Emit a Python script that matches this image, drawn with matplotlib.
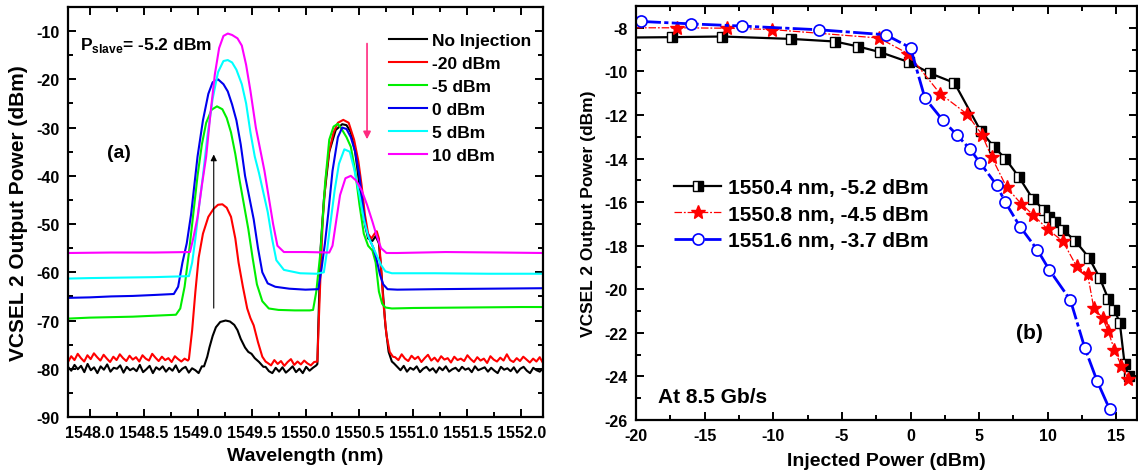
import numpy as np
import matplotlib
matplotlib.use('Agg')
import matplotlib.pyplot as plt
from matplotlib.ticker import MultipleLocator, FormatStrFormatter

# ---------- fonts ----------
FAM = 'Liberation Sans'
plt.rcParams['font.family'] = [FAM, 'DejaVu Sans']
plt.rcParams['font.weight'] = 'bold'
plt.rcParams['axes.unicode_minus'] = False
plt.rcParams['mathtext.fontset'] = 'custom'
plt.rcParams['mathtext.rm'] = FAM + ':bold'
plt.rcParams['mathtext.bf'] = FAM + ':bold'

# ---------- panel (a): spectra ----------
# noisy floors (black / red)
blk_left = [-79.6,-80.4,-79.2,-80.1,-79.4,-80.7,-79.0,-80.3,-79.7,-80.9,-79.5,-80.2,-79.1,-80.6,
            -79.8,-80.0,-79.3,-80.8,-79.6,-80.3,-79.9,-80.5,-79.2,-80.7,-80.1,-79.4,-80.9,-79.7,
            -80.2,-79.5,-80.6,-79.8,-80.4,-79.3,-80.7,-80.0,-79.6,-80.8,-79.9,-80.3,-80.9,-79.5]
blk_mid = [-79.6,-80.5,-80.9,-79.8,-80.6,-79.7,-80.8,-80.2,-79.5,-80.7,-80.0,-80.9,-79.6,-80.4,-79.8,-79.3]
blk_right = [-78.9,-79.6,-80.3,-79.4,-80.6,-79.8,-80.2,-79.5,-80.7,-80.0,-79.6,-80.4,-79.9,-80.8,
             -79.7,-80.3,-79.5,-80.6,-80.1,-79.8,-80.5,-79.6,-80.2,-79.9,-80.7,-79.5,-80.3,-80.0,
             -79.7,-80.6,-79.8,-80.4,-80.9,-79.6,-80.2,-79.9,-80.5,-79.7,-80.8,-80.0,-79.6,-80.4,
             -80.9,-79.8,-80.3,-80.6,-79.9]
blk_pk1_wl = [1549.06,1549.09,1549.11,1549.14,1549.17,1549.21,1549.26,1549.30,1549.34,1549.37,
              1549.40,1549.44,1549.47,1549.50,1549.53,1549.57,1549.61]
blk_pk1_p = [-79.5,-77.5,-75.6,-73.2,-71.4,-70.3,-70.0,-70.2,-70.9,-72.0,-73.8,-75.6,-76.5,-76.9,
             -77.8,-78.6,-79.6]
blk_pk2_wl = [1550.11,1550.12,1550.14,1550.17,1550.22,1550.28,1550.34,1550.38,1550.42,1550.46,
              1550.50,1550.54,1550.58,1550.62,1550.65,1550.68,1550.71,1550.74,1550.77,1550.80]
blk_pk2_p = [-79,-70,-55,-45,-35,-30.5,-29.3,-29.5,-31,-35,-42,-49,-53,-53.5,-52.5,-54,-62,-71,-76.5,-78.5]

red_left = [-78.6,-77.4,-78.2,-76.9,-77.8,-78.5,-77.2,-78.0,-76.8,-77.6,-78.3,-77.1,-77.9,-78.6,
            -77.5,-78.2,-77.0,-77.8,-78.4,-77.3,-78.1,-77.6,-78.5,-77.2,-77.9,-78.3,-76.9,-77.7,
            -78.4,-77.5,-78.2,-77.8,-78.6,-77.4,-78.0,-78.5,-77.9,-78.3]
red_mid = [-78.8,-79.3,-78.2,-79.0,-78.4,-79.4,-78.6,-78.0,-79.2,-78.5,-79.1,-78.3,-78.9,-79.3,-78.6]
red_right = [-77.6,-78.2,-77.0,-77.9,-78.4,-77.3,-78.0,-77.5,-78.6,-77.8,-77.1,-78.3,-77.7,-78.5,
             -77.4,-78.1,-77.8,-78.7,-77.5,-78.2,-77.9,-78.4,-77.2,-78.0,-78.6,-77.6,-78.3,-77.9,
             -78.8,-77.4,-78.1,-78.5,-77.7,-78.3,-77.0,-78.2,-78.6,-77.8,-78.4,-77.5,-78.1,-78.7,
             -77.9,-78.5,-77.6,-78.8]
red_pk1_wl = [1548.92,1548.95,1548.98,1549.01,1549.05,1549.10,1549.15,1549.19,1549.23,1549.27,
              1549.31,1549.35,1549.38,1549.42,1549.46,1549.49,1549.52,1549.56,1549.60,1549.63]
red_pk1_p = [-78,-72,-64,-57,-52,-48.5,-46.8,-46.0,-45.9,-46.6,-48.5,-53,-58,-63,-67.5,-69.5,-71,
             -74.5,-77.5,-78.5]
red_pk2_wl = [1550.11,1550.12,1550.14,1550.16,1550.19,1550.22,1550.26,1550.30,1550.35,1550.40,
              1550.45,1550.49,1550.52,1550.55,1550.58,1550.61,1550.64,1550.66,1550.68,1550.70,
              1550.72,1550.75,1550.78,1550.81]
red_pk2_p = [-78.5,-72,-60,-49,-40,-34.8,-31,-29,-28.4,-29,-32.5,-37,-42,-48,-52,-53,-52,-51.5,
             -53,-59,-66,-73,-76.5,-77.5]

grn_wl = [1547.80,1548.0,1548.2,1548.4,1548.6,1548.8,1548.84,1548.88,1548.92,1548.96,1549.00,
          1549.04,1549.08,1549.13,1549.18,1549.23,1549.27,1549.31,1549.35,1549.39,1549.43,1549.47,
          1549.51,1549.55,1549.60,1549.66,1549.75,1549.9,1550.04,1550.07,1550.10,1550.14,1550.18,
          1550.22,1550.26,1550.30,1550.34,1550.38,1550.42,1550.46,1550.50,1550.54,1550.58,1550.62,
          1550.65,1550.68,1550.71,1550.74,1550.8,1551.0,1551.5,1552.0,1552.2]
grn_p = [-69.6,-69.4,-69.3,-69.2,-69.0,-68.8,-67.5,-63,-56,-48,-40,-33.5,-29,-26.3,-25.6,-26.2,
         -28,-31,-35.5,-41,-46,-51,-57,-62.5,-66,-67.5,-67.8,-67.9,-67.9,-67.8,-64,-55.5,-42,
         -32.5,-29.8,-29.2,-30.5,-32,-34,-39,-46,-52,-54.5,-55.5,-58,-64,-66.5,-67.3,-67.5,-67.4,
         -67.3,-67.2,-67.2]

blu_wl = [1547.8,1548.0,1548.2,1548.4,1548.6,1548.78,1548.82,1548.86,1548.90,1548.94,1549.00,
          1549.05,1549.10,1549.14,1549.19,1549.24,1549.28,1549.32,1549.36,1549.40,1549.44,1549.48,
          1549.52,1549.56,1549.60,1549.65,1549.72,1549.85,1550.0,1550.12,1550.15,1550.18,1550.21,
          1550.25,1550.30,1550.34,1550.38,1550.42,1550.46,1550.50,1550.53,1550.56,1550.60,1550.63,
          1550.66,1550.69,1550.72,1550.76,1550.85,1551.2,1551.7,1552.2]
blu_p = [-65.3,-65.2,-65.0,-64.9,-64.7,-64.5,-63,-58,-54,-48,-36,-28.5,-23,-20.6,-20,-21,-22.5,
         -25.2,-28.5,-33.5,-40,-44.5,-49,-55,-60,-62.3,-63,-63.4,-63.6,-63.5,-59,-54,-48,-39,-32,
         -30,-30.3,-32,-35,-40,-46,-51,-53.5,-55,-57.5,-60.5,-62.5,-63.5,-63.6,-63.5,-63.4,-63.3]

cyn_wl = [1547.8,1548.0,1548.3,1548.6,1548.92,1548.95,1548.98,1549.01,1549.05,1549.09,1549.14,
          1549.19,1549.24,1549.28,1549.32,1549.36,1549.41,1549.45,1549.49,1549.53,1549.57,1549.61,
          1549.65,1549.69,1549.73,1549.8,1549.95,1550.1,1550.17,1550.20,1550.23,1550.27,1550.31,
          1550.36,1550.41,1550.45,1550.50,1550.54,1550.58,1550.62,1550.66,1550.70,1550.74,1550.80,
          1551.2,1551.7,1552.2]
cyn_p = [-61.3,-61.2,-61.1,-61.0,-60.8,-58,-53,-47,-40,-32,-24,-18.5,-16.2,-16.0,-16.5,-18,-21,
         -25,-31,-36,-39.5,-43.5,-47.5,-53,-57.5,-59.5,-60.2,-60.3,-60,-55.5,-50,-43,-37.5,-34.5,
         -35,-38.5,-44,-49,-52.5,-54.5,-56.5,-58.5,-59.8,-60.2,-60.2,-60.3,-60.3]

mag_wl = [1547.8,1548.2,1548.6,1548.93,1548.96,1549.00,1549.04,1549.08,1549.12,1549.16,1549.20,
          1549.24,1549.28,1549.32,1549.37,1549.41,1549.45,1549.49,1549.54,1549.58,1549.62,1549.66,
          1549.70,1549.74,1549.8,1550.0,1550.22,1550.25,1550.28,1550.32,1550.37,1550.42,1550.47,
          1550.52,1550.57,1550.62,1550.66,1550.70,1550.75,1550.85,1551.3,1551.8,1552.2]
mag_p = [-56.0,-55.9,-55.9,-55.8,-53,-48.6,-42,-36,-27,-19,-13.5,-11,-10.5,-10.8,-11.5,-13,-17,
         -22.4,-30,-34.5,-39,-44.5,-50,-54.5,-55.8,-55.8,-55.9,-54.5,-50,-44,-40.5,-40,-41,-43,
         -46,-49.5,-52.5,-55,-56,-56,-55.8,-55.9,-56]

spec_labels = ['No Injection', '-20 dBm', '-5 dBm', '0 dBm', '5 dBm', '10 dBm']
spec_colors = ['black', '#ff0000', '#00ee00', '#0000ee', '#00ffff', '#ff00ff']

# ---------- panel (b): output power vs injected power ----------
b_labels = ['1550.4 nm, -5.2 dBm', '1550.8 nm, -4.5 dBm', '1551.6 nm, -3.7 dBm']
blk_x = [-21, -17.4, -13.7, -8.7, -5.5, -3.8, -2.2, -0.1, 1.4, 3.2, 5.1, 6.1, 6.9, 7.9, 8.9, 9.7,
         10.1, 10.5, 11.1, 12.0, 13.0, 13.8, 14.4, 14.85, 15.25, 15.6, 15.9]
blk_y = [-8.45, -8.43, -8.4, -8.51, -8.63, -8.86, -9.12, -9.58, -10.08, -10.53, -12.72, -13.48,
         -14.0, -14.85, -15.85, -16.35, -16.68, -16.93, -17.27, -17.78, -18.55, -19.5, -20.43,
         -20.93, -21.55, -23.45, -24.0]
red_x = [-21, -17.0, -13.35, -10.1, -2.3, -0.2, 2.15, 4.1, 5.2, 5.9, 7.0, 8.05, 8.95, 10.0, 11.1,
         12.1, 12.9, 13.35, 14.0, 14.4, 14.85, 15.35, 15.85]
red_y = [-8.0, -8.0, -8.02, -8.08, -8.47, -9.18, -11.02, -11.95, -12.9, -13.92, -15.32, -16.07,
         -16.6, -17.25, -17.8, -18.95, -19.3, -20.86, -21.32, -21.93, -22.77, -23.5, -24.1]
blu_x = [-19.6, -16.0, -12.3, -6.7, -1.8, 0.0, 1.05, 2.35, 3.38, 4.32, 5.07, 6.28, 6.9, 7.97,
         9.25, 10.1, 11.65, 12.7, 13.6, 14.5]
blu_y = [-7.71, -7.82, -7.92, -8.09, -8.32, -8.92, -11.23, -12.24, -12.92, -13.56, -14.2, -15.22,
         -16.0, -17.12, -18.2, -19.1, -20.5, -22.7, -24.22, -25.5]


def floor_wl(a, b, vals):
    return list(np.linspace(a, b, len(vals)))


def style_axes(ax):
    for s in ax.spines.values():
        s.set_linewidth(1.6)
    ax.tick_params(which='both', direction='in', top=True, right=True, width=1.4,
                   labelsize=11.5, pad=6)
    ax.tick_params(which='major', length=6)
    ax.tick_params(which='minor', length=3.5)


fig = plt.figure(figsize=(11.38, 4.77), dpi=100)
ax1 = fig.add_axes([68/1138, 59/477, 475/1138, 410/477])
ax2 = fig.add_axes([636/1138, 56/477, 501/1138, 414/477])

# assemble spectra
black_wl = floor_wl(1547.80, 1549.04, blk_left) + blk_pk1_wl + floor_wl(1549.63, 1550.10, blk_mid) \
    + blk_pk2_wl + floor_wl(1550.82, 1552.20, blk_right)
black_p = blk_left + blk_pk1_p + blk_mid + blk_pk2_p + blk_right
red_wl = floor_wl(1547.80, 1548.91, red_left) + red_pk1_wl + floor_wl(1549.65, 1550.08, red_mid) \
    + red_pk2_wl + floor_wl(1550.83, 1552.20, red_right)
red_p = red_left + red_pk1_p + red_mid + red_pk2_p + red_right

traces = [(black_wl, black_p), (red_wl, red_p), (grn_wl, grn_p),
          (blu_wl, blu_p), (cyn_wl, cyn_p), (mag_wl, mag_p)]
for (wl, p), lab, c in zip(traces, spec_labels, spec_colors):
    ax1.plot(wl, p, color=c, lw=1.5, label=lab)

ax1.set_xlim(1547.8, 1552.2)
ax1.set_ylim(-90, -5)
ax1.xaxis.set_major_locator(MultipleLocator(0.5))
ax1.xaxis.set_minor_locator(MultipleLocator(0.25))
ax1.yaxis.set_major_locator(MultipleLocator(10))
ax1.yaxis.set_minor_locator(MultipleLocator(5))
ax1.xaxis.set_major_formatter(FormatStrFormatter('%.1f'))
style_axes(ax1)
ax1.set_xlabel('Wavelength (nm)', fontsize=14, fontweight='bold', labelpad=5)
ax1.set_ylabel('VCSEL 2 Output Power (dBm)', fontsize=15, fontweight='bold', labelpad=6)

ax1.legend(loc='upper left', bbox_to_anchor=(0.675, 0.937), frameon=False, fontsize=12.5,
           handlelength=2.2, handletextpad=0.3, labelspacing=0.45, borderpad=0, borderaxespad=0)
ax1.text(1547.91, -12.7, r'P$_{\mathrm{slave}}$= -5.2 dBm', fontsize=12.5, fontweight='bold',
         va='center', ha='left')
ax1.text(1548.16, -35.2, '(a)', fontsize=14, fontweight='bold', va='center', ha='left')
ax1.annotate('', xy=(1549.15, -35), xytext=(1549.15, -68),
             arrowprops=dict(arrowstyle='-|>', color='black', lw=0.8, mutation_scale=9))
ax1.annotate('', xy=(1550.57, -33), xytext=(1550.57, -12),
             arrowprops=dict(arrowstyle='-|>', color='#ff2a80', lw=1.2, mutation_scale=11))

# ---------- panel (b) ----------
ax2.plot(blk_x, blk_y, color='black', lw=1.6, marker='s', ms=6.5, fillstyle='right',
         mfc='black', mfcalt='white', mec='black', mew=1.0, label=b_labels[0])
ax2.plot(red_x, red_y, color='#ff0000', lw=0.9, ls=(0, (6, 1.5, 1.5, 1.5)), marker='*', ms=10.5,
         mfc='#ff0000', mec='#ff0000', label=b_labels[1])
ax2.plot(blu_x, blu_y, color='#0000ff', lw=2.0, ls=(0, (7, 1.2, 1.5, 1.2)), marker='o', ms=8,
         mfc='white', mec='#0000ff', mew=1.2, label=b_labels[2])

ax2.set_xlim(-20, 16.5)
ax2.set_ylim(-26, -7)
ax2.xaxis.set_major_locator(MultipleLocator(5))
ax2.xaxis.set_minor_locator(MultipleLocator(2.5))
ax2.yaxis.set_major_locator(MultipleLocator(2))
ax2.yaxis.set_minor_locator(MultipleLocator(1))
style_axes(ax2)
ax2.set_xlabel('Injected Power (dBm)', fontsize=14, fontweight='bold', labelpad=6)
ax2.set_ylabel('VCSEL 2 Output Power (dBm)', fontsize=12.5, fontweight='bold', labelpad=6)

ax2.legend(loc='upper left', bbox_to_anchor=(0.075, 0.585), frameon=False, fontsize=15,
           handlelength=2.3, handletextpad=0.3, labelspacing=0.37, borderpad=0,
           borderaxespad=0, numpoints=1)
ax2.text(8.7, -22.0, '(b)', fontsize=15, fontweight='bold', ha='center', va='center')
ax2.text(-18.4, -24.9, 'At 8.5 Gb/s', fontsize=15, fontweight='bold', ha='left', va='center')

fig.savefig('out.png', dpi=100)
